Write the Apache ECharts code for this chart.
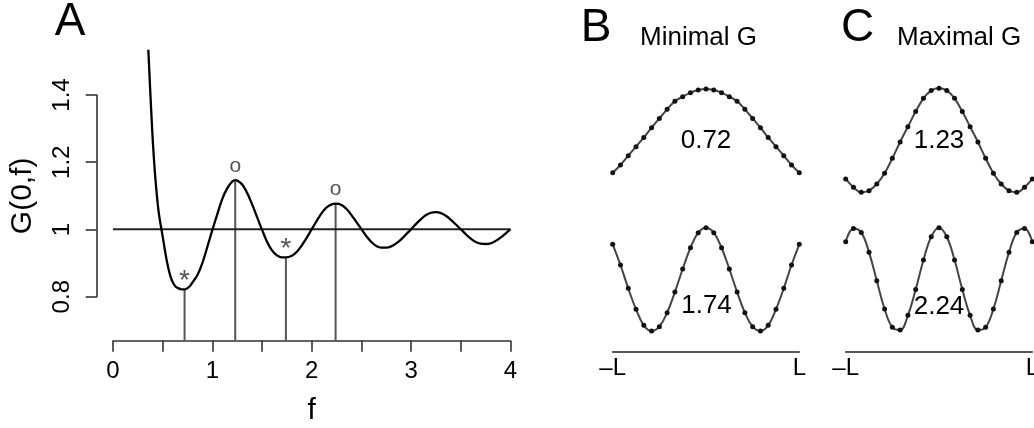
<!DOCTYPE html>
<html>
<head>
<meta charset="utf-8">
<script src="https://cdn.jsdelivr.net/npm/echarts@6/dist/echarts.min.js"></script>
<style>
  html, body { margin: 0; padding: 0; background: #fff; }
  #chart { width: 1034px; height: 428px; }
</style>
</head>
<body>
<div id="chart"></div>
<script>
// panel A: G(0,f)
const curveF = [0.34, 0.35, 0.36, 0.37, 0.38, 0.39, 0.40, 0.42, 0.44, 0.46, 0.48, 0.50,
  0.52, 0.54, 0.56, 0.58, 0.60, 0.62, 0.64, 0.66, 0.68, 0.70, 0.72, 0.74, 0.76, 0.78, 0.80,
  0.85, 0.90, 0.95, 1.00, 1.05, 1.10, 1.15, 1.20, 1.23,
  1.25, 1.30, 1.35, 1.40, 1.45, 1.50, 1.55, 1.60, 1.65, 1.70, 1.74,
  1.80, 1.85, 1.90, 1.95, 2.00, 2.05, 2.10, 2.15, 2.20, 2.24,
  2.30, 2.35, 2.40, 2.45, 2.50, 2.55, 2.60, 2.65, 2.70, 2.75, 2.80, 2.85, 2.90, 2.95, 3.00,
  3.05, 3.10, 3.15, 3.20, 3.25, 3.30, 3.35, 3.40, 3.45, 3.50, 3.55, 3.60, 3.65, 3.70, 3.75,
  3.80, 3.85, 3.90, 3.95, 4.00]
const curveG = [1.64, 1.57, 1.505, 1.44, 1.38, 1.32, 1.265, 1.175, 1.105, 1.05, 1.012, 0.978,
  0.942, 0.908, 0.88, 0.858, 0.843, 0.833, 0.827, 0.824, 0.822, 0.821, 0.821, 0.823, 0.827, 0.833, 0.842,
  0.864, 0.9, 0.948, 0.998, 1.045, 1.09, 1.122, 1.142, 1.146,
  1.145, 1.133, 1.108, 1.074, 1.036, 0.998, 0.963, 0.937, 0.922, 0.916, 0.916,
  0.921, 0.933, 0.952, 0.975, 1.0, 1.025, 1.048, 1.065, 1.074, 1.076,
  1.072, 1.06, 1.042, 1.021, 1.0, 0.979, 0.962, 0.95, 0.945, 0.945, 0.949, 0.958, 0.97, 0.985, 1.0,
  1.016, 1.03, 1.042, 1.049, 1.051, 1.048, 1.04, 1.028, 1.014, 1.0, 0.985, 0.972, 0.962, 0.957, 0.956,
  0.958, 0.965, 0.975, 0.987, 1.0]

const extremaF = [0.72, 1.23, 1.74, 2.24]
const extremaG = [0.822, 1.146, 0.916, 1.076]
const extremaMark = ['*', 'o', '*', 'o']

const refLevel = 1
const fTicks = [0, 1, 2, 3, 4]
const gTicks = [0.8, 1.0, 1.2, 1.4]

// panels B, C: sampled mode shapes (25 points from -L to L, relative height)
const modeB1 = [0, 0.092, 0.203, 0.311, 0.422, 0.538, 0.649, 0.757, 0.853, 0.908, 0.956, 0.988, 1,
  0.988, 0.956, 0.908, 0.853, 0.757, 0.649, 0.538, 0.422, 0.311, 0.203, 0.092, 0]
const modeB2 = [0.839, 0.639, 0.413, 0.21, 0.055, 0, 0.042, 0.177, 0.377, 0.6, 0.806, 0.952, 1,
  0.952, 0.806, 0.6, 0.377, 0.177, 0.042, 0, 0.055, 0.21, 0.413, 0.639, 0.839]
const modeC1 = [0.128, 0.048, 0, 0.016, 0.08, 0.183, 0.327, 0.484, 0.631, 0.776, 0.904, 0.978, 1,
  0.978, 0.904, 0.776, 0.631, 0.484, 0.327, 0.183, 0.08, 0.016, 0, 0.048, 0.128]
const modeC2 = [0.863, 0.993, 0.954, 0.759, 0.482, 0.205, 0.026, 0, 0.143, 0.397, 0.684, 0.912, 1,
  0.912, 0.684, 0.397, 0.143, 0, 0.026, 0.205, 0.482, 0.759, 0.954, 0.993, 0.863]
const modeLabels = ['0.72', '1.74', '1.23', '2.24']
const endLabels = ['–L', 'L']

const font = 'Liberation Sans, Arial, Helvetica, sans-serif'
const yMinA = 0.6684
const yMaxA = 1.530

const chart = echarts.init(document.getElementById('chart'))

const modeGrid = (left, top, height) => ({ left, top, width: 186.6, height, outerBoundsMode: 'none' })
const hiddenX = (gridIndex) => ({ gridIndex, type: 'value', min: 0, max: 24, show: false })
const hiddenY = (gridIndex) => ({ gridIndex, type: 'value', min: 0, max: 1, show: false })
const endAxis = (gridIndex, offset) => ({
  gridIndex, type: 'value', min: 0, max: 24, interval: 24, offset,
  axisLine: { onZero: false, lineStyle: { color: '#222', width: 1.6 } },
  axisTick: { show: false },
  splitLine: { show: false },
  axisLabel: {
    margin: 5,
    color: '#000',
    fontFamily: font,
    fontSize: 24,
    formatter: (v) => (v === 0 ? endLabels[0] : endLabels[1])
  }
})
const modeSeries = (idx, values) => ({
  type: 'line',
  xAxisIndex: idx,
  yAxisIndex: idx,
  data: values.map((v, k) => [k, v]),
  smooth: 0.4,
  clip: false,
  symbol: 'circle',
  symbolSize: 5,
  showAllSymbol: true,
  itemStyle: { color: '#111' },
  lineStyle: { color: '#444', width: 2 }
})

const label = (text, x, y, size, align) => ({
  type: 'text',
  x, y,
  style: { text, font: `${size}px ${font}`, fill: '#000', align: align || 'center', verticalAlign: 'middle' }
})

chart.setOption({
  animation: false,
  backgroundColor: '#fff',
  grid: [
    { left: 113, top: 51, width: 397.5, height: 289.7, outerBoundsMode: 'none' },
    { left: 96.7, top: 95, width: 1, height: 201.7, outerBoundsMode: 'none' },
    modeGrid(612.7, 89, 83.7),
    modeGrid(612.7, 227.7, 103.3),
    modeGrid(845.7, 88.3, 104),
    modeGrid(845.7, 227.7, 102.3)
  ],
  xAxis: [
    {
      gridIndex: 0, type: 'value', min: 0, max: 4, interval: 0.5,
      name: 'f', nameLocation: 'middle', nameGap: 55,
      nameTextStyle: { color: '#000', fontFamily: font, fontSize: 30 },
      axisLine: { onZero: false, lineStyle: { color: '#333', width: 1.6 } },
      axisTick: { length: 11, lineStyle: { color: '#333', width: 1.6 } },
      splitLine: { show: false },
      axisLabel: {
        margin: 19, color: '#000', fontFamily: font, fontSize: 24,
        formatter: (v) => (fTicks.includes(v) ? String(v) : '')
      }
    },
    { gridIndex: 1, type: 'value', min: 0, max: 1, show: false },
    hiddenX(2),
    endAxis(3, 20.7),
    hiddenX(4),
    endAxis(5, 21.7)
  ],
  yAxis: [
    { gridIndex: 0, type: 'value', min: yMinA, max: yMaxA, show: false },
    {
      gridIndex: 1, type: 'value', min: gTicks[0], max: gTicks[gTicks.length - 1], interval: 0.2,
      name: 'G(0,f)', nameLocation: 'middle', nameGap: 59, nameRotate: 90,
      nameTextStyle: { color: '#000', fontFamily: font, fontSize: 30 },
      axisLine: { show: true, onZero: false, lineStyle: { color: '#333', width: 1.6 } },
      axisTick: { show: true, length: 11, lineStyle: { color: '#333', width: 1.6 } },
      splitLine: { show: false },
      axisLabel: {
        rotate: 90, margin: 22, color: '#000', fontFamily: font, fontSize: 24,
        formatter: (v) => String(Math.round(v * 10) / 10)
      }
    },
    hiddenY(2),
    hiddenY(3),
    hiddenY(4),
    hiddenY(5)
  ],
  series: [
    {
      type: 'line',
      data: [[0, refLevel], [4, refLevel]],
      symbol: 'none',
      lineStyle: { color: '#222', width: 2 }
    },
    {
      type: 'custom',
      data: extremaF.map((f, i) => [f, extremaG[i]]),
      renderItem: (params, api) => {
        const top = api.coord([api.value(0), api.value(1)])
        const base = api.coord([api.value(0), yMinA])
        return {
          type: 'line',
          shape: { x1: top[0], y1: top[1], x2: base[0], y2: base[1] },
          style: { stroke: '#555', lineWidth: 2 }
        }
      }
    },
    {
      type: 'line',
      data: curveF.map((f, i) => [f, curveG[i]]),
      smooth: 0.3,
      symbol: 'none',
      clip: true,
      lineStyle: { color: '#000', width: 2.3 }
    },
    {
      type: 'custom',
      data: extremaF.map((f, i) => [f, extremaG[i], i]),
      renderItem: (params, api) => {
        const p = api.coord([api.value(0), api.value(1)])
        const mark = extremaMark[api.value(2)]
        return {
          type: 'text',
          x: p[0],
          y: p[1] - (mark === '*' ? 8 : 14),
          style: { text: mark, font: `${mark === '*' ? 28 : 21}px ${font}`, fill: '#555', align: 'center', verticalAlign: 'middle' }
        }
      }
    },
    modeSeries(2, modeB1),
    modeSeries(3, modeB2),
    modeSeries(4, modeC1),
    modeSeries(5, modeC2)
  ],
  graphic: [
    label('A', 70, 22, 46),
    label('B', 596, 28.5, 46),
    label('C', 857.5, 28.5, 46),
    label('Minimal G', 640, 38, 26, 'left'),
    label('Maximal G', 897, 38, 26, 'left'),
    label(modeLabels[0], 706, 141, 26),
    label(modeLabels[1], 706.5, 306, 26),
    label(modeLabels[2], 939, 141, 26),
    label(modeLabels[3], 939, 306.5, 26)
  ]
})
</script>
</body>
</html>
